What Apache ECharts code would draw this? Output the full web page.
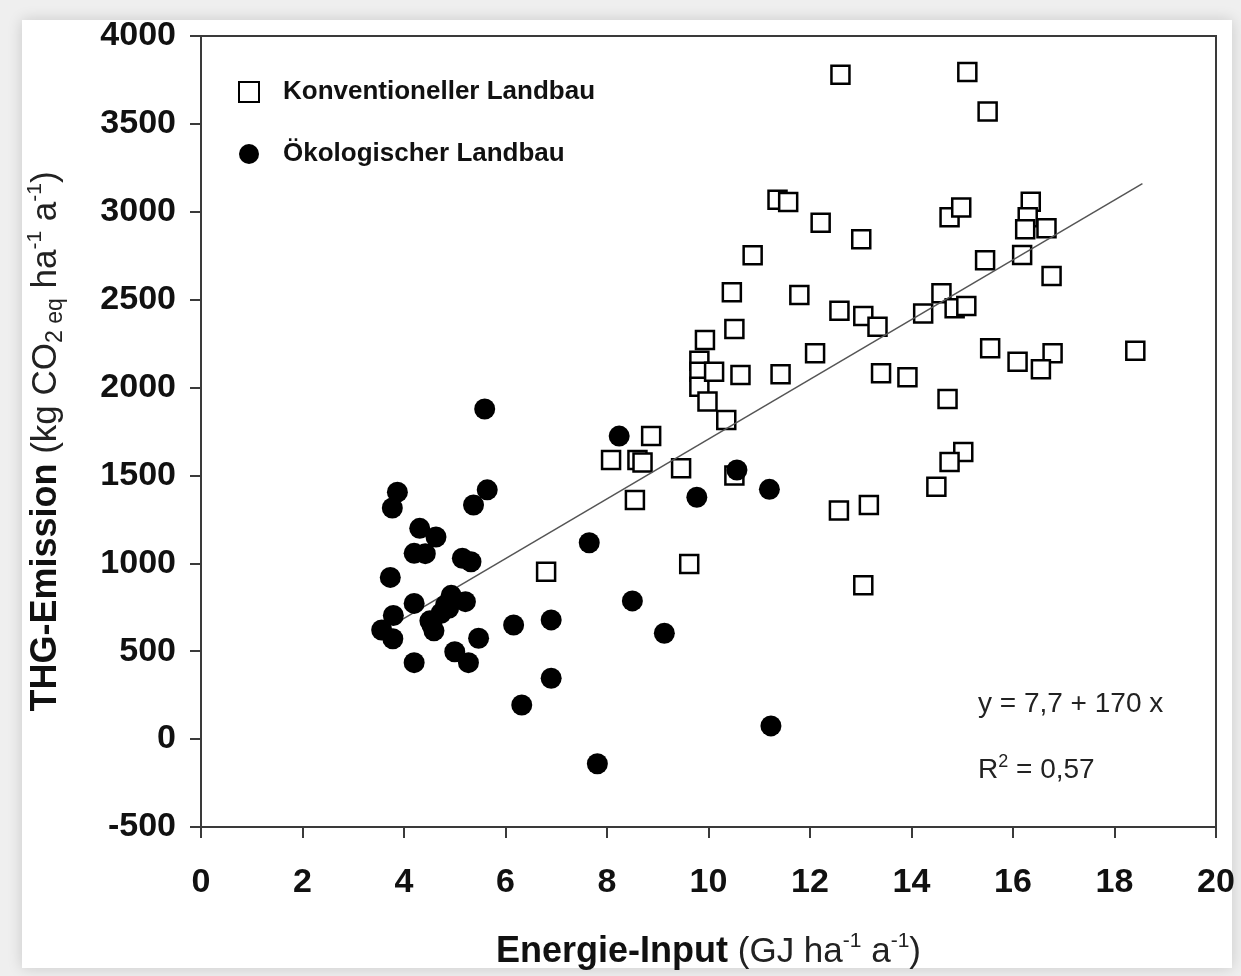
<!DOCTYPE html>
<html>
<head>
<meta charset="utf-8">
<script src="https://cdn.jsdelivr.net/npm/echarts@6.0.0/dist/echarts.min.js"></script>
<style>
	html, body { margin: 0; padding: 0; background: #efefef; }
	#frame {
		position: absolute; left: 22px; top: 20px; width: 1210px; height: 948px;
		background: #fff; box-shadow: 0 0 14px rgba(0, 0, 0, 0.16);
	}
	#chart { position: absolute; left: 0; top: 0; width: 1241px; height: 976px; }
</style>
</head>
<body>
<div id="frame"></div>
<div id="chart"></div>
<script>
// Konventioneller Landbau (Energie-Input GJ, THG kg CO2eq)
var konvPoints = [
	[12.6, 3780], [15.1, 3795], [15.5, 3570],
	[11.36, 3068], [11.57, 3055], [12.21, 2938], [13.01, 2843], [10.87, 2752],
	[10.46, 2542], [11.79, 2527], [12.58, 2437], [13.05, 2407], [13.33, 2346],
	[10.51, 2333], [9.93, 2271], [12.1, 2195], [9.82, 2153], [9.82, 2090],
	[9.82, 2005], [10.11, 2090], [10.63, 2071], [11.42, 2075], [9.98, 1920],
	[10.35, 1816], [9.46, 1541], [10.51, 1499], [13.4, 2081], [13.92, 2058],
	[14.75, 2969], [14.98, 3025], [16.35, 3057], [16.29, 2969], [16.24, 2900],
	[16.66, 2906], [15.45, 2724], [16.18, 2754], [16.76, 2635], [14.59, 2537],
	[14.23, 2422], [14.85, 2451], [15.08, 2464], [15.55, 2223], [16.09, 2147],
	[16.78, 2195], [16.55, 2104], [18.41, 2210], [14.71, 1935], [15.02, 1634],
	[14.75, 1576], [14.49, 1435],
	[8.87, 1724], [8.08, 1588], [8.6, 1588], [8.7, 1573], [8.55, 1360],
	[6.8, 952], [9.62, 996], [12.57, 1300], [13.16, 1332], [13.05, 875]
];
// Ökologischer Landbau
var oekoPoints = [
	[5.59, 1878], [3.87, 1405], [3.77, 1315], [5.64, 1418], [5.37, 1332],
	[4.31, 1199], [4.63, 1150], [4.2, 1057], [4.42, 1055], [5.15, 1029],
	[5.32, 1009], [3.73, 920], [4.2, 772], [4.93, 818], [5.21, 782],
	[3.79, 703], [3.56, 621], [3.78, 571], [4.55, 649], [4.73, 716],
	[4.82, 763], [4.59, 616], [4.88, 744], [4.51, 673], [5.47, 574],
	[4.2, 435], [5.0, 497], [5.27, 435], [6.16, 649], [6.9, 678],
	[6.9, 346], [6.32, 194], [7.65, 1117], [8.24, 1724], [10.56, 1531],
	[11.2, 1421], [9.77, 1376], [8.5, 786], [9.13, 602], [11.23, 75],
	[7.81, -140]
];
var fitLine = [[3.9, 670], [18.55, 3160]];

var xTicks = { min: 0, max: 20, interval: 2 };
var yTicks = { min: -500, max: 4000, interval: 500 };

var axisColor = '#3a3a3a';
var fontFam = '"Liberation Sans", Arial, sans-serif';

var chart = echarts.init(document.getElementById('chart'));

var nameRich = {
	b: { fontSize: 36, fontWeight: 'bold', color: '#111', lineHeight: 42, fontFamily: fontFam },
	n: { fontSize: 35, color: '#222', lineHeight: 42, fontFamily: fontFam },
	sub: { fontSize: 23, color: '#222', lineHeight: 26, verticalAlign: 'bottom', fontFamily: fontFam },
	sup: { fontSize: 21, color: '#222', lineHeight: 26, verticalAlign: 'top', fontFamily: fontFam }
};

var option = {
	animation: false,
	textStyle: { fontFamily: fontFam, color: '#111' },
	grid: {
		left: 201, right: 25, top: 36, bottom: 149,
		show: true, borderColor: axisColor, borderWidth: 2, backgroundColor: 'transparent'
	},
	legend: {
		data: ['Konventioneller Landbau', 'Ökologischer Landbau'],
		orient: 'vertical',
		left: 233, top: 74,
		itemWidth: 20, itemHeight: 20,
		itemGap: 36,
		textStyle: { fontSize: 26, fontWeight: 'bold', color: '#111', fontFamily: fontFam, padding: [0, 0, 0, 19] }
	},
	xAxis: {
		type: 'value',
		min: xTicks.min, max: xTicks.max, interval: xTicks.interval,
		splitLine: { show: false },
		axisLine: { onZero: false, lineStyle: { color: axisColor, width: 2 } },
		axisTick: { show: true, length: 11, lineStyle: { color: axisColor, width: 2 } },
		axisLabel: { fontSize: 34, fontWeight: 'bold', color: '#111', margin: 39 },
		name: '{b|Energie-Input}{n| (GJ ha}{sup|-1}{n| a}{sup|-1}{n|)}',
		nameLocation: 'middle',
		nameGap: 104,
		nameTextStyle: { rich: nameRich }
	},
	yAxis: {
		type: 'value',
		min: yTicks.min, max: yTicks.max, interval: yTicks.interval,
		splitLine: { show: false },
		axisLine: { onZero: false, lineStyle: { color: axisColor, width: 2 } },
		axisTick: { show: true, length: 11, lineStyle: { color: axisColor, width: 2 } },
		axisLabel: {
			fontSize: 34, fontWeight: 'bold', color: '#111', margin: 25,
			formatter: function(v) { return String(v); }
		},
		name: '{b|THG-Emission}{n| (kg CO}{sub|2 eq}{n| ha}{sup|-1}{n| a}{sup|-1}{n|)}',
		nameLocation: 'middle',
		nameGap: 134,
		nameTextStyle: { rich: nameRich, padding: [0, 20, 0, 0] }
	},
	graphic: [{
		type: 'text', left: 978, top: 690, z: 10,
		style: { text: 'y = 7,7 + 170 x', fontSize: 28, fill: '#222', fontFamily: fontFam }
	}, {
		type: 'text', left: 978, top: 753, z: 10,
		style: {
			text: '{n|R}{sup|2}{n| = 0,57}',
			rich: {
				n: { fontSize: 28, fill: '#222', lineHeight: 34, fontFamily: fontFam },
				sup: { fontSize: 18, fill: '#222', lineHeight: 22, verticalAlign: 'top', fontFamily: fontFam }
			}
		}
	}],
	series: [{
		name: 'Konventioneller Landbau',
		type: 'scatter',
		symbol: 'rect',
		symbolSize: 18,
		z: 2,
		itemStyle: { color: '#fff', borderColor: '#000', borderWidth: 2.5, opacity: 1 },
		emphasis: { disabled: true },
		data: konvPoints
	}, {
		name: 'Regression',
		type: 'line',
		z: 3,
		showSymbol: false,
		symbol: 'none',
		lineStyle: { color: '#555', width: 1.5 },
		emphasis: { disabled: true },
		data: fitLine
	}, {
		name: 'Ökologischer Landbau',
		type: 'scatter',
		symbol: 'circle',
		symbolSize: 21,
		z: 4,
		itemStyle: { color: '#000', opacity: 1 },
		emphasis: { disabled: true },
		data: oekoPoints
	}]
};

chart.setOption(option);
</script>
</body>
</html>
